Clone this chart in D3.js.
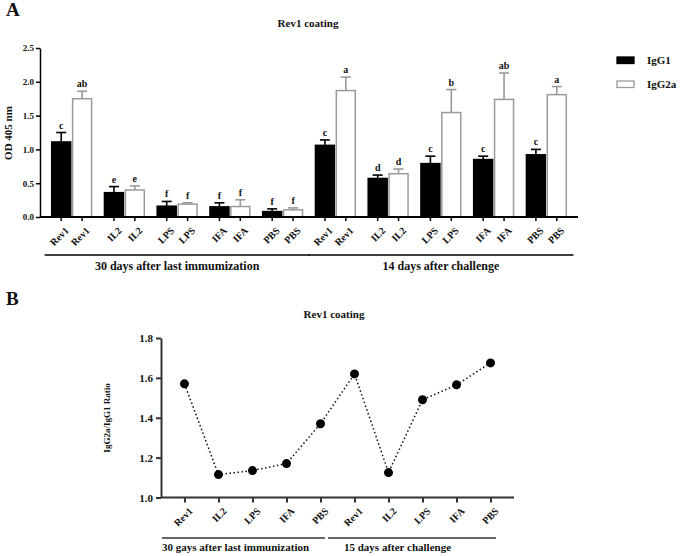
<!DOCTYPE html>
<html>
<head>
<meta charset="utf-8">
<script src="https://cdn.jsdelivr.net/npm/d3@7"></script>
<style>
body { margin:0; background:#fff; }
</style>
</head>
<body>
<svg id="chart" width="685" height="556" font-family="Liberation Serif, Times New Roman, serif" font-weight="bold"></svg>
<script>
// ---- data ----
var groups = ["Rev1", "IL2", "LPS", "IFA", "PBS", "Rev1", "IL2", "LPS", "IFA", "PBS"];
var periodsA = ["30 days after last immumization", "14 days after challenge"];
var periodsB = ["30 gays after last immunization", "15 days after challenge"];
var series = ["IgG1", "IgG2a"];

var igg1_mean  = [1.11, 0.36, 0.16, 0.15, 0.08, 1.06, 0.57, 0.79, 0.85, 0.92];
var igg1_err   = [0.14, 0.09, 0.07, 0.06, 0.04, 0.08, 0.05, 0.11, 0.05, 0.08];
var igg1_sig   = ["c", "e", "f", "f", "f", "c", "d", "c", "c", "c"];
var igg2a_mean = [1.75, 0.40, 0.19, 0.155, 0.105, 1.87, 0.64, 1.545, 1.74, 1.81];
var igg2a_err  = [0.11, 0.06, 0.02, 0.10, 0.03, 0.20, 0.07, 0.34, 0.39, 0.12];
var igg2a_sig  = ["ab", "e", "f", "f", "f", "a", "d", "b", "ab", "a"];

var ratio = [1.57, 1.115, 1.135, 1.17, 1.37, 1.62, 1.125, 1.49, 1.565, 1.675];

var yTicksA = [0, 0.5, 1.0, 1.5, 2.0, 2.5];
var yTicksB = [1.0, 1.2, 1.4, 1.6, 1.8];

var FONT = "Liberation Serif";
var svg = d3.select('#chart');

function txt(sel){ return sel.attr('font-family', FONT).attr('font-weight', 'bold').attr('fill', '#111'); }

// ================= panel A =================
var gA = svg.append('g');
var yA = d3.scaleLinear().domain([0, 2.5]).range([217, 48]);
var x0 = d3.scaleBand().domain(d3.range(groups.length)).range([40, 578])
           .paddingInner(0.2).paddingOuter(0.2);
var x1 = d3.scaleBand().domain(series).range([0, x0.bandwidth()]).padding(0.02);

var bars = [];
groups.forEach(function(g, i){
    bars.push({i:i, s:"IgG1", v:igg1_mean[i], e:igg1_err[i], t:igg1_sig[i], label:g});
    bars.push({i:i, s:"IgG2a", v:igg2a_mean[i], e:igg2a_err[i], t:igg2a_sig[i], label:g});
});
function cx(d){ return x0(d.i) + x1(d.s) + x1.bandwidth()/2; }

// error bars (behind bars)
var eb = gA.append('g').selectAll('g').data(bars).enter().append('g')
    .attr('stroke', function(d){ return d.s == "IgG1" ? "black" : "#9a9a9a"; })
    .attr('stroke-width', 1.6);
eb.append('line')
    .attr('x1', cx).attr('x2', cx)
    .attr('y1', function(d){ return yA(d.v); })
    .attr('y2', function(d){ return yA(d.v + d.e); });
eb.append('line')
    .attr('x1', function(d){ return cx(d) - 5; })
    .attr('x2', function(d){ return cx(d) + 5; })
    .attr('y1', function(d){ return yA(d.v + d.e); })
    .attr('y2', function(d){ return yA(d.v + d.e); });

gA.append('g').selectAll('rect').data(bars).enter().append('rect')
    .attr('x', function(d){ return x0(d.i) + x1(d.s) + 0.75; })
    .attr('width', x1.bandwidth() - 1.5)
    .attr('y', function(d){ return yA(d.v); })
    .attr('height', function(d){ return yA(0) - yA(d.v); })
    .attr('fill', function(d){ return d.s == "IgG1" ? "black" : "white"; })
    .attr('stroke', function(d){ return d.s == "IgG1" ? "black" : "#9a9a9a"; })
    .attr('stroke-width', 1.5);

// significance letters
gA.append('g').selectAll('text').data(bars).enter().append('text')
    .attr('x', cx)
    .attr('y', function(d){ return yA(d.v + d.e) - 4; })
    .attr('text-anchor', 'middle')
    .attr('font-size', '10px')
    .call(txt)
    .text(function(d){ return d.t; });

// y axis
var yAxisA = gA.append('g').attr('transform', 'translate(40,0)')
    .call(d3.axisLeft(yA).tickValues(yTicksA).tickFormat(d3.format('.1f')).tickSize(4).tickSizeOuter(0));
yAxisA.selectAll('text').attr('font-size', '9px').attr('dx', '1').call(txt);
yAxisA.selectAll('line, path').attr('stroke', 'black').attr('stroke-width', 1.5);

// x axis
var xAxisA = gA.append('g').attr('transform', 'translate(0,217)');
xAxisA.append('line').attr('x1', 40).attr('x2', 578).attr('stroke', 'black').attr('stroke-width', 1.8);
xAxisA.selectAll('.tk').data(bars).enter().append('line')
    .attr('x1', cx).attr('x2', cx).attr('y1', 0).attr('y2', 4)
    .attr('stroke', 'black').attr('stroke-width', 1.5);
xAxisA.selectAll('.tl').data(bars).enter().append('text')
    .attr('transform', function(d){ return 'translate(' + (cx(d) + 4) + ',10) rotate(-45)'; })
    .attr('text-anchor', 'end')
    .attr('dy', '0.6em')
    .attr('font-size', '10px')
    .call(txt)
    .text(function(d){ return d.label; });

// period brackets
[[0, 4], [5, 9]].forEach(function(r, k){
    var a = x0(r[0]) - 6, b = x0(r[1]) + x0.bandwidth() + 6;
    gA.append('line').attr('x1', a).attr('x2', b).attr('y1', 255).attr('y2', 255)
        .attr('stroke', 'black').attr('stroke-width', 1.5);
    gA.append('text').attr('x', (a + b)/2).attr('y', 270).attr('text-anchor', 'middle')
        .attr('font-size', '12px').call(txt).text(periodsA[k]);
});

gA.append('text').attr('x', 6).attr('y', 16).attr('font-size', '19px').call(txt).text('A');
gA.append('text').attr('x', 308).attr('y', 27).attr('text-anchor', 'middle')
    .attr('font-size', '11px').call(txt).text('Rev1 coating');
gA.append('text').attr('transform', 'translate(12,133) rotate(-90)').attr('text-anchor', 'middle')
    .attr('font-size', '11px').call(txt).text('OD 405 nm');

// legend
var lg = gA.append('g').selectAll('g').data(series).enter().append('g')
    .attr('transform', function(d, i){ return 'translate(617,' + (57 + i*24) + ')'; });
lg.append('rect').attr('width', 17).attr('height', 6.5)
    .attr('fill', function(d){ return d == "IgG1" ? "black" : "white"; })
    .attr('stroke', function(d){ return d == "IgG1" ? "black" : "#9a9a9a"; })
    .attr('stroke-width', 1.3);
lg.append('text').attr('x', 30).attr('y', 7).attr('font-size', '11px').call(txt).text(function(d){ return d; });

// ================= panel B =================
var gB = svg.append('g');
var yB = d3.scaleLinear().domain([1.0, 1.8]).range([497.5, 338]);
var xB = d3.scalePoint().domain(d3.range(groups.length)).range([161, 514]).padding(0.69);

var yAxisB = gB.append('g').attr('transform', 'translate(161,0)')
    .call(d3.axisLeft(yB).tickValues(yTicksB).tickFormat(d3.format('.1f')).tickSize(5).tickSizeOuter(0));
yAxisB.selectAll('text').attr('font-size', '11px').call(txt);
yAxisB.selectAll('line, path').attr('stroke', '#333').attr('stroke-width', 2);

var xAxisB = gB.append('g').attr('transform', 'translate(0,497.5)')
    .call(d3.axisBottom(xB).tickFormat(function(i){ return groups[i]; }).tickSize(5).tickSizeOuter(0));
xAxisB.select('.domain').attr('d', 'M161,0H514');
xAxisB.selectAll('line, path').attr('stroke', '#333').attr('stroke-width', 2);
xAxisB.selectAll('.tick text')
    .attr('font-size', '10px')
    .attr('text-anchor', 'end')
    .attr('x', 0).attr('y', 0).attr('dy', '0.6em')
    .attr('transform', 'translate(4,10) rotate(-45)')
    .call(txt);

var line = d3.line().x(function(d, i){ return xB(i); }).y(function(d){ return yB(d); });
gB.append('path').datum(ratio).attr('d', line)
    .attr('fill', 'none').attr('stroke', '#111').attr('stroke-width', 1.5)
    .attr('stroke-dasharray', '1.5,2.5');
gB.append('g').selectAll('circle').data(ratio).enter().append('circle')
    .attr('cx', function(d, i){ return xB(i); })
    .attr('cy', function(d){ return yB(d); })
    .attr('r', 4.5).attr('fill', 'black');

[[162, 325], [328, 496]].forEach(function(r, k){
    gB.append('line').attr('x1', r[0]).attr('x2', r[1]).attr('y1', 538).attr('y2', 538)
        .attr('stroke', '#333').attr('stroke-width', 1.5);
});
gB.append('text').attr('x', 162).attr('y', 551).attr('font-size', '11px').call(txt).text(periodsB[0]);
gB.append('text').attr('x', 344).attr('y', 551).attr('font-size', '11px').call(txt).text(periodsB[1]);

gB.append('text').attr('x', 6).attr('y', 305).attr('font-size', '19px').call(txt).text('B');
gB.append('text').attr('x', 334).attr('y', 318).attr('text-anchor', 'middle')
    .attr('font-size', '11px').call(txt).text('Rev1 coating');
gB.append('text').attr('transform', 'translate(110,418) rotate(-90)').attr('text-anchor', 'middle')
    .attr('font-size', '9px').call(txt).text('IgG2a/IgG1 Ratio');
</script>
</body>
</html>
